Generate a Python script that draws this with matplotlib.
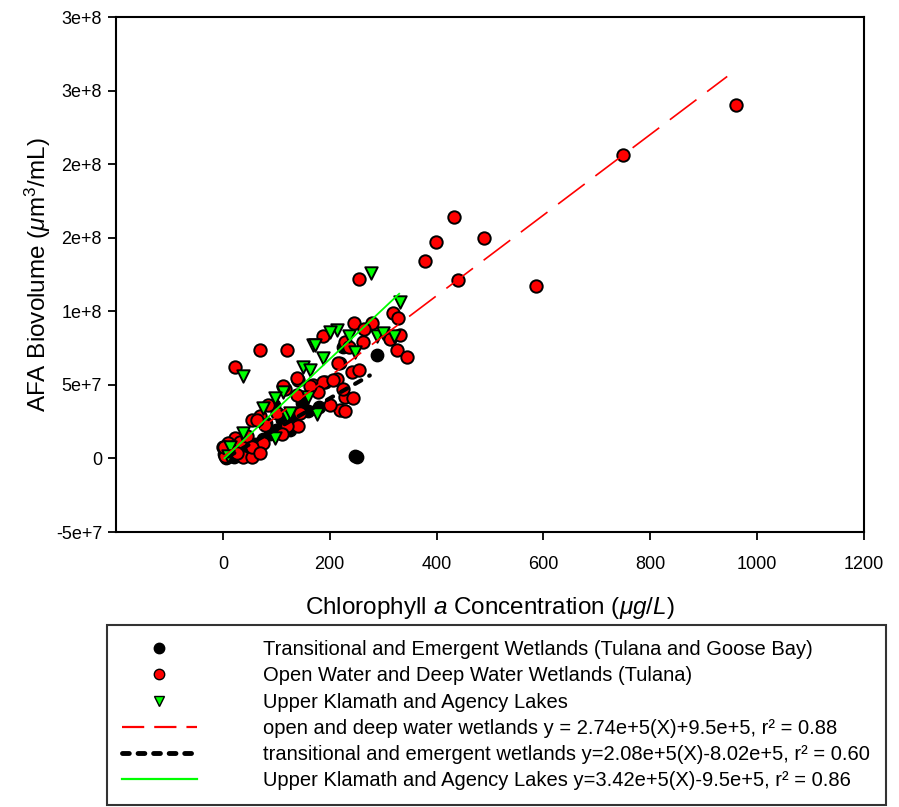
import matplotlib
matplotlib.use('Agg')
import matplotlib.pyplot as plt
from matplotlib.lines import Line2D
import numpy as np

plt.rcParams['font.family'] = ['Liberation Sans', 'DejaVu Sans']
plt.rcParams['mathtext.fontset'] = 'custom'
plt.rcParams['mathtext.rm'] = 'Liberation Sans'
plt.rcParams['mathtext.it'] = 'Liberation Sans:italic'

# Transitional and Emergent Wetlands (Tulana and Goose Bay) - y in 1e7
trans_x = [5, 10, 15, 30, 45, 60, 75, 88, 100, 110, 125, 130, 148, 160, 219, 224,
           288, 248, 252, 95, 80, 3, 20, 40, 180]
trans_y = [0.05, 0.1, 0.2, 0.5, 0.8, 1.0, 1.3, 1.63, 1.9, 2.64, 1.96, 2.6, 3.8, 3.2,
           6.5, 7.6, 7.0, 0.15, 0.08, 3.6, 2.4, 0.3, 0.1, 0.3, 3.5]

# Open Water and Deep Water Wetlands (Tulana)
open_x = [961, 748, 432, 398, 488, 379, 441, 587, 254, 318, 327, 245, 280, 264, 187,
          312, 331, 262, 325, 344, 69, 120, 22, 228, 215, 241, 254, 213, 191, 168,
          140, 116, 228, 243, 219, 228, 237, 187, 206, 178, 163, 138, 138, 224, 200,
          54, 69, 78, 22, 9, 0, 4, 19, 32, 37, 54, 26, 45, 75, 54, 69, 64, 144, 140,
          101, 120, 110, 112, 84, 2]
open_y = [24.0, 20.6, 16.4, 14.7, 15.0, 13.4, 12.1, 11.7, 12.2, 9.9, 9.55, 9.2, 9.2,
          8.8, 8.3, 8.1, 8.4, 7.9, 7.4, 6.9, 7.4, 7.4, 6.2, 7.9, 6.5, 5.9, 6.0, 5.4,
          5.2, 5.0, 5.3, 4.7, 4.2, 4.1, 3.3, 3.2, 7.6, 5.2, 5.35, 4.5, 4.9, 5.5, 4.3,
          4.7, 3.66, 2.64, 2.85, 2.30, 1.42, 1.08, 0.75, 0.14, 0.75, 1.15, 0.07, 0.07,
          0.4, 1.5, 1.08, 0.75, 0.4, 2.64, 3.12, 2.17, 3.12, 2.17, 1.63, 4.9, 3.66, 0.8]

# Upper Klamath and Agency Lakes
ukl_x = [277, 331, 213, 237, 288, 168, 247, 187, 150, 163, 176, 172, 37, 75, 120, 97,
         37, 13, 9, 125, 112, 97, 159, 200, 300, 320]
ukl_y = [12.6, 10.6, 8.7, 8.3, 8.3, 7.7, 7.2, 6.8, 6.2, 6.0, 3.0, 7.7, 5.6, 3.45, 2.85,
         1.42, 1.76, 0.8, 0.14, 3.1, 4.5, 4.1, 4.2, 8.6, 8.5, 8.3]

# regression lines: slope, intercept, x range
open_fit = (2.74e5, 9.5e5, [0, 944])
trans_fit = (2.08e5, -8.02e5, [10, 275])
ukl_fit = (3.42e5, -9.5e5, [3, 330])

yticks = [-5e7, 0, 5e7, 1e8, 1.5e8, 2e8, 2.5e8, 3e8]
ytick_labels = ['-5e+7', '0', '5e+7', '1e+8', '2e+8', '2e+8', '3e+8', '3e+8']
xticks = [0, 200, 400, 600, 800, 1000, 1200]

labels = ['Transitional and Emergent Wetlands (Tulana and Goose Bay)',
          'Open Water and Deep Water Wetlands (Tulana)',
          'Upper Klamath and Agency Lakes',
          'open and deep water wetlands y = 2.74e+5(X)+9.5e+5, r\u00b2 = 0.88',
          'transitional and emergent wetlands y=2.08e+5(X)-8.02e+5, r\u00b2 = 0.60',
          'Upper Klamath and Agency Lakes y=3.42e+5(X)-9.5e+5, r\u00b2 = 0.86']

fig = plt.figure(figsize=(8.99, 8.07), dpi=100)
ax = fig.add_axes([116/899, 1-532/807, (864-116)/899, (532-17)/807])

ms = 80
ax.scatter(trans_x, np.array(trans_y)*1e7, s=ms, c='black', edgecolors='black', linewidths=1.0, zorder=2)
ax.scatter(open_x, np.array(open_y)*1e7, s=ms, c='#ff0000', edgecolors='black', linewidths=1.4, zorder=3)
ax.scatter(ukl_x, np.array(ukl_y)*1e7, s=ms, marker='v', c='#00ff00', edgecolors='black', linewidths=1.4, zorder=4)

def fit_line(f):
    xs = np.array(f[2], dtype=float)
    return xs, f[0]*xs + f[1]

xs, ys = fit_line(open_fit)
ax.plot(xs, ys, color='#ff0000', lw=1.2, dashes=(20, 8), zorder=5)
xs, ys = fit_line(trans_fit)
ax.plot(xs, ys, color='black', lw=3.0, dashes=(1.7, 2.2), dash_capstyle='round', zorder=5)
xs, ys = fit_line(ukl_fit)
ax.plot(xs, ys, color='#00ff00', lw=1.3, zorder=6)

ax.set_xlim(-200, 1200)
ax.set_ylim(-5e7, 3e8)
ax.set_xticks(xticks)
ax.set_xticklabels([str(t) for t in xticks])
ax.set_yticks(yticks)
ax.set_yticklabels(ytick_labels)
ax.tick_params(direction='out', length=6, width=1.3, labelsize=13, pad=4)
ax.tick_params(axis='x', pad=11)
for s in ax.spines.values():
    s.set_linewidth(1.5)

ax.set_ylabel('AFA Biovolume ($\\mu$m$^3$/mL)', fontsize=17.5, labelpad=2)
ax.set_xlabel('Chlorophyll $a$ Concentration $(\\mu g/L)$', fontsize=17.5, labelpad=16)

handles = [Line2D([], [], ls='none', marker='o', color='black', markersize=7.5),
           Line2D([], [], ls='none', marker='o', markerfacecolor='#ff0000', markeredgecolor='black', markersize=7.5),
           Line2D([], [], ls='none', marker='v', markerfacecolor='#00ff00', markeredgecolor='black', markersize=7.5),
           Line2D([], [], color='#ff0000', lw=1.6, dashes=(10, 4.5)),
           Line2D([], [], color='black', lw=3.5, dashes=(1.4, 1.8), dash_capstyle='round'),
           Line2D([], [], color='#00ff00', lw=1.6)]

leg_top = 1 - 625/807
leg = fig.legend(handles, labels, loc='upper left',
                 bbox_to_anchor=(107/899, leg_top - 0.01, (886-107)/899, 0.01),
                 mode='expand', fontsize=14.5, frameon=True, fancybox=False,
                 edgecolor='black', borderpad=0.75, handlelength=3.7,
                 handletextpad=3.3, labelspacing=0.36, borderaxespad=0)
leg.get_frame().set_linewidth(1.5)

fig.savefig('out.png', dpi=100)
